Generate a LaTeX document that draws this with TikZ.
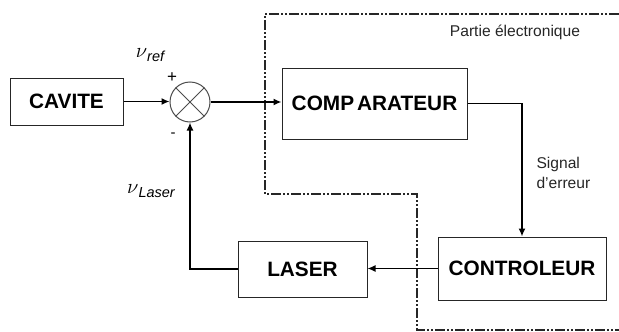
\documentclass[tikz,border=0pt]{standalone}
\usepackage{fontspec}
\setmainfont{Liberation Sans}
\usetikzlibrary{arrows.meta,calc}
\begin{document}
\begin{tikzpicture}[x=1pt,y=-1pt,
  blockbox/.style={draw=black!85,line width=1pt,fill=white,inner sep=0pt,
    font=\fontsize{20.8}{22}\selectfont\bfseries},
  conn/.style={line width=1.5pt,black},
  arr/.style={conn,-{Latex[length=8pt,width=7pt]}},
  smalltxt/.style={font=\fontsize{15.6}{20}\selectfont,text=black!85},
  frontier/.style={line width=1.4pt,black!85,
    dash pattern=on 10pt off 2pt on 2pt off 2pt on 2pt off 2pt}]
\useasboundingbox (0,0) rectangle (619,332);
% frontier
\coordinate (f1) at (619,14);
\coordinate (f2) at (265,14);
\coordinate (f3) at (265,194);
\coordinate (f4) at (417,194);
\coordinate (f5) at (417,330);
\coordinate (f6) at (619,330);
\draw[frontier] (f1) -- (f2) -- (f3) -- (f4) -- (f5) -- (f6);
% blocks
\node[blockbox,minimum width=113pt,minimum height=47pt] (cav) at (66.5,101.5) {CAVITE};
\node[draw=black!70,line width=1pt,circle,minimum size=40pt,inner sep=0pt,fill=white] (sum) at (190,102) {};
\draw[black!70,line width=1pt] (sum.north west) -- (sum.south east) (sum.north east) -- (sum.south west);
\node[blockbox,minimum width=185pt,minimum height=71pt] (comp) at (374.5,103.5) {COMP\hspace{3pt}ARATEUR};
\node[blockbox,minimum width=168pt,minimum height=63pt] (ctrl) at (522,268.5) {CONTROLEUR};
\node[blockbox,minimum width=129pt,minimum height=56pt] (las) at (302.5,269) {LASER};
% connectors
\draw[arr] (cav.east) -- (cav.east -| sum.west);
\draw[arr] (sum.east) -- (sum.east -| comp.west);
\draw[arr] (comp.east) -| (ctrl.north);
\draw[arr] (ctrl.west) -- (ctrl.west -| las.east);
\draw[arr] (las.west) -| (sum.south);
% labels
\node (nuref) at (150,55) {{\fontsize{21}{21}\selectfont$\nu$}\raisebox{-4pt}{\fontsize{14.5}{14.5}\selectfont\itshape ref}};
\node (nulas) at (151,191) {{\fontsize{21}{21}\selectfont$\nu$}\raisebox{-4pt}{\fontsize{14.5}{14.5}\selectfont\itshape Laser}};
\node[font=\fontsize{17}{17}\selectfont] (plus) at (172,78) {+};
\node[font=\fontsize{15}{15}\selectfont] (minus) at (173,135) {-};
\node[smalltxt,anchor=west,align=left] (sig) at (533,173) {Signal\\d'erreur};
\node[smalltxt] (part) at (515,32) {Partie électronique};
\end{tikzpicture}
\end{document}
